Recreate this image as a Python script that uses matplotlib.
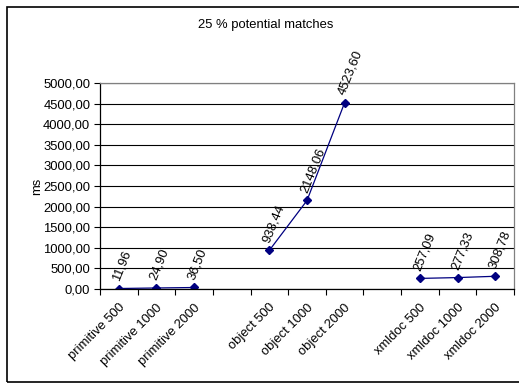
import numpy as np
import matplotlib.pyplot as plt
from matplotlib.patches import Rectangle

plt.rcParams['font.family'] = ['Liberation Sans', 'DejaVu Sans']

categories = ['primitive 500', 'primitive 1000', 'primitive 2000', '',
              'object 500', 'object 1000', 'object 2000', '',
              'xmldoc 500', 'xmldoc 1000', 'xmldoc 2000']
values = [11.96, 24.90, 36.50, np.nan,
          938.44, 2148.06, 4523.60, np.nan,
          257.09, 277.33, 308.78]
yticks = [0, 500, 1000, 1500, 2000, 2500, 3000, 3500, 4000, 4500, 5000]

fs = 9.4
navy = '#000080'

fig = plt.figure(figsize=(5.19, 3.83), dpi=100)
fig.patch.set_facecolor('white')
ax = fig.add_axes([100/519, 1-289/383, 414/519, 206/383])

x = np.arange(len(categories))
ax.plot(x, values, color=navy, lw=0.9, marker='D', ms=4, mfc=navy, mec=navy)

for xi, v in zip(x, values):
    if np.isnan(v):
        continue
    ax.annotate(f'{v:.2f}'.replace('.', ','), (xi, v), xytext=(-2, 6),
                textcoords='offset points', rotation=68, rotation_mode='anchor',
                ha='left', va='center', fontsize=fs)

ax.set_xlim(-0.5, len(categories) - 0.5)
ax.set_ylim(0, 5000)
ax.set_yticks(yticks)
ax.set_yticklabels([f'{t:.2f}'.replace('.', ',') for t in yticks], fontsize=fs)
ax.yaxis.grid(True, color='black', lw=0.8)
ax.set_axisbelow(True)

ax.set_xticks(np.arange(len(categories) + 1) - 0.5)
ax.set_xticklabels([])
ax.set_xticks(x, minor=True)
ax.set_xticklabels(categories, minor=True, rotation=45, ha='right',
                   rotation_mode='anchor', fontsize=fs)
ax.tick_params(axis='x', which='minor', length=0, pad=9)
ax.tick_params(axis='x', which='major', length=4, width=0.8, direction='out')
ax.tick_params(axis='y', length=4, width=0.8, direction='out', pad=3)

for s in ['top', 'right']:
    ax.spines[s].set_color('#808080')
for s in ['left', 'bottom']:
    ax.spines[s].set_color('black')
for s in ax.spines.values():
    s.set_linewidth(0.9)

ax.set_ylabel('ms', fontsize=fs, labelpad=0)

fig.text(266/519, 1-25/383, '25 % potential matches', ha='center', va='center',
         fontsize=fs)

fig.patches.append(Rectangle((7/519, 1-382/383), 520/519, 375/383,
                             transform=fig.transFigure, fill=False,
                             edgecolor='black', lw=1.2))

fig.savefig('out.png', dpi=100)
